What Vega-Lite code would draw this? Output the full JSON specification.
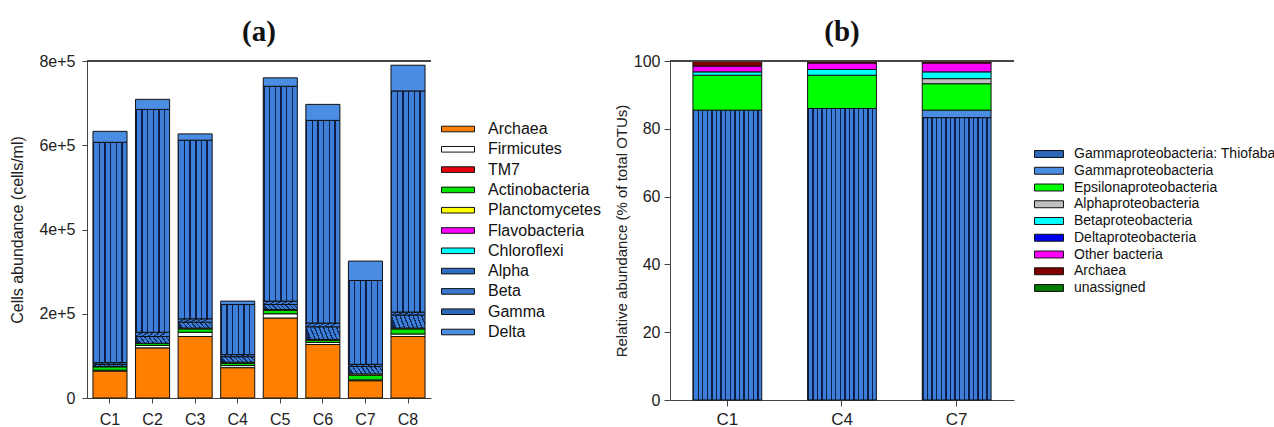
{
  "$schema": "https://vega.github.io/schema/vega-lite/v6.json",
  "background": "white",
  "padding": {"left": 9, "top": 18, "right": 0, "bottom": 0},
  "spacing": 13,
  "config": {
    "view": {"stroke": null},
    "font": "Liberation Sans",
    "axis": {"grid": false, "domainColor": "#444", "tickColor": "#444", "labelColor": "#222", "titleColor": "#222", "titleFontWeight": "normal", "labelFont": "Liberation Sans", "titleFont": "Liberation Sans"},
    "title": {"font": "Liberation Serif", "fontSize": 29, "fontWeight": "bold", "color": "#111", "anchor": "middle"},
    "legend": {"padding": 0, "labelColor": "#111", "symbolStrokeColor": "#111", "symbolStrokeWidth": 1, "symbolOpacity": 1, "labelFont": "Liberation Sans"}
  },
  "datasets": {
    "a": [
      {"site": "C1", "group": "Archaea", "k": 0, "value": 64000},
      {"site": "C1", "group": "Firmicutes", "k": 1, "value": 2000},
      {"site": "C1", "group": "Actinobacteria", "k": 3, "value": 8000},
      {"site": "C1", "group": "Planctomycetes", "k": 4, "value": 1000},
      {"site": "C1", "group": "Alpha", "k": 7, "value": 5000},
      {"site": "C1", "group": "Beta", "k": 8, "value": 4000},
      {"site": "C1", "group": "Gamma", "k": 9, "value": 523000},
      {"site": "C1", "group": "Delta", "k": 10, "value": 26000},
      {"site": "C2", "group": "Archaea", "k": 0, "value": 119000},
      {"site": "C2", "group": "Firmicutes", "k": 1, "value": 6000},
      {"site": "C2", "group": "Actinobacteria", "k": 3, "value": 5000},
      {"site": "C2", "group": "Alpha", "k": 7, "value": 16000},
      {"site": "C2", "group": "Beta", "k": 8, "value": 10000},
      {"site": "C2", "group": "Gamma", "k": 9, "value": 529000},
      {"site": "C2", "group": "Delta", "k": 10, "value": 24000},
      {"site": "C3", "group": "Archaea", "k": 0, "value": 146000},
      {"site": "C3", "group": "Firmicutes", "k": 1, "value": 10000},
      {"site": "C3", "group": "Actinobacteria", "k": 3, "value": 8000},
      {"site": "C3", "group": "Planctomycetes", "k": 4, "value": 2000},
      {"site": "C3", "group": "Alpha", "k": 7, "value": 14000},
      {"site": "C3", "group": "Beta", "k": 8, "value": 8000},
      {"site": "C3", "group": "Gamma", "k": 9, "value": 424000},
      {"site": "C3", "group": "Delta", "k": 10, "value": 15000},
      {"site": "C4", "group": "Archaea", "k": 0, "value": 72000},
      {"site": "C4", "group": "Firmicutes", "k": 1, "value": 5000},
      {"site": "C4", "group": "Actinobacteria", "k": 3, "value": 5000},
      {"site": "C4", "group": "Planctomycetes", "k": 4, "value": 3000},
      {"site": "C4", "group": "Alpha", "k": 7, "value": 13000},
      {"site": "C4", "group": "Beta", "k": 8, "value": 5000},
      {"site": "C4", "group": "Gamma", "k": 9, "value": 119000},
      {"site": "C4", "group": "Delta", "k": 10, "value": 8000},
      {"site": "C5", "group": "Archaea", "k": 0, "value": 190000},
      {"site": "C5", "group": "Firmicutes", "k": 1, "value": 10000},
      {"site": "C5", "group": "Actinobacteria", "k": 3, "value": 8000},
      {"site": "C5", "group": "Planctomycetes", "k": 4, "value": 2000},
      {"site": "C5", "group": "Alpha", "k": 7, "value": 12000},
      {"site": "C5", "group": "Beta", "k": 8, "value": 8000},
      {"site": "C5", "group": "Gamma", "k": 9, "value": 510000},
      {"site": "C5", "group": "Delta", "k": 10, "value": 20000},
      {"site": "C6", "group": "Archaea", "k": 0, "value": 127000},
      {"site": "C6", "group": "Firmicutes", "k": 1, "value": 5000},
      {"site": "C6", "group": "Actinobacteria", "k": 3, "value": 5000},
      {"site": "C6", "group": "Planctomycetes", "k": 4, "value": 2000},
      {"site": "C6", "group": "Alpha", "k": 7, "value": 30000},
      {"site": "C6", "group": "Beta", "k": 8, "value": 9000},
      {"site": "C6", "group": "Gamma", "k": 9, "value": 481000},
      {"site": "C6", "group": "Delta", "k": 10, "value": 38000},
      {"site": "C7", "group": "Archaea", "k": 0, "value": 41000},
      {"site": "C7", "group": "Firmicutes", "k": 1, "value": 2000},
      {"site": "C7", "group": "Actinobacteria", "k": 3, "value": 11000},
      {"site": "C7", "group": "Planctomycetes", "k": 4, "value": 3000},
      {"site": "C7", "group": "Alpha", "k": 7, "value": 18000},
      {"site": "C7", "group": "Beta", "k": 8, "value": 5000},
      {"site": "C7", "group": "Gamma", "k": 9, "value": 199000},
      {"site": "C7", "group": "Delta", "k": 10, "value": 46000},
      {"site": "C8", "group": "Archaea", "k": 0, "value": 146000},
      {"site": "C8", "group": "Firmicutes", "k": 1, "value": 6000},
      {"site": "C8", "group": "Actinobacteria", "k": 3, "value": 12000},
      {"site": "C8", "group": "Planctomycetes", "k": 4, "value": 2000},
      {"site": "C8", "group": "Alpha", "k": 7, "value": 31000},
      {"site": "C8", "group": "Beta", "k": 8, "value": 7000},
      {"site": "C8", "group": "Gamma", "k": 9, "value": 525000},
      {"site": "C8", "group": "Delta", "k": 10, "value": 61000}
    ],
    "b": [
      {"site": "C1", "group": "Gammaproteobacteria: Thiofaba", "k": 0, "value": 85.5},
      {"site": "C1", "group": "Epsilonaproteobacteria", "k": 2, "value": 10.3},
      {"site": "C1", "group": "Betaproteobacteria", "k": 4, "value": 1.0},
      {"site": "C1", "group": "Other bacteria", "k": 6, "value": 1.7},
      {"site": "C1", "group": "Archaea", "k": 7, "value": 1.5},
      {"site": "C4", "group": "Gammaproteobacteria: Thiofaba", "k": 0, "value": 86.0},
      {"site": "C4", "group": "Epsilonaproteobacteria", "k": 2, "value": 9.8},
      {"site": "C4", "group": "Betaproteobacteria", "k": 4, "value": 1.7},
      {"site": "C4", "group": "Other bacteria", "k": 6, "value": 1.9},
      {"site": "C4", "group": "Archaea", "k": 7, "value": 0.6},
      {"site": "C7", "group": "Gammaproteobacteria: Thiofaba", "k": 0, "value": 83.3},
      {"site": "C7", "group": "Gammaproteobacteria", "k": 1, "value": 2.2},
      {"site": "C7", "group": "Epsilonaproteobacteria", "k": 2, "value": 7.8},
      {"site": "C7", "group": "Alphaproteobacteria", "k": 3, "value": 1.5},
      {"site": "C7", "group": "Betaproteobacteria", "k": 4, "value": 2.0},
      {"site": "C7", "group": "Other bacteria", "k": 6, "value": 2.6},
      {"site": "C7", "group": "Archaea", "k": 7, "value": 0.6}
    ]
  },
  "hconcat": [
    {
      "data": {"name": "a"},
      "width": 344,
      "height": 337,
      "title": {"text": "(a)", "offset": 6},
      "layer": [
        {
          "mark": {"type": "bar", "stroke": "#111", "strokeWidth": 1},
          "encoding": {
            "x": {"field": "site", "type": "nominal", "sort": null, "scale": {"paddingInner": 0.2, "paddingOuter": 0.14},
                  "axis": {"title": null, "labelAngle": 0, "labelFontSize": 16, "tickSize": 5, "labelPadding": 8}},
            "y": {"field": "value", "type": "quantitative", "stack": "zero", "scale": {"domain": [0, 800000], "nice": false},
                  "axis": {"title": "Cells abundance (cells/ml)", "values": [0, 200000, 400000, 600000, 800000],
                           "labelExpr": "datum.value == 0 ? '0' : format(datum.value, '.0e')",
                           "labelFontSize": 16, "titleFontSize": 16, "tickSize": 5, "labelPadding": 7, "titlePadding": 13}},
            "order": {"field": "k", "type": "quantitative"},
            "color": {
              "condition": [
                {"test": "datum.group === 'Alpha'", "value": {"gradient": "linear", "x1": 0, "y1": 0.15, "x2": 1, "y2": 0, "stops": [
                    {"offset": 0, "color": "#102A5C"}, {"offset": 0.04, "color": "#102A5C"}, {"offset": 0.04, "color": "#3D7FD8"}, {"offset": 0.125, "color": "#3D7FD8"},
                    {"offset": 0.125, "color": "#102A5C"}, {"offset": 0.165, "color": "#102A5C"}, {"offset": 0.165, "color": "#3D7FD8"}, {"offset": 0.25, "color": "#3D7FD8"},
                    {"offset": 0.25, "color": "#102A5C"}, {"offset": 0.29, "color": "#102A5C"}, {"offset": 0.29, "color": "#3D7FD8"}, {"offset": 0.375, "color": "#3D7FD8"},
                    {"offset": 0.375, "color": "#102A5C"}, {"offset": 0.415, "color": "#102A5C"}, {"offset": 0.415, "color": "#3D7FD8"}, {"offset": 0.5, "color": "#3D7FD8"},
                    {"offset": 0.5, "color": "#102A5C"}, {"offset": 0.54, "color": "#102A5C"}, {"offset": 0.54, "color": "#3D7FD8"}, {"offset": 0.625, "color": "#3D7FD8"},
                    {"offset": 0.625, "color": "#102A5C"}, {"offset": 0.665, "color": "#102A5C"}, {"offset": 0.665, "color": "#3D7FD8"}, {"offset": 0.75, "color": "#3D7FD8"},
                    {"offset": 0.75, "color": "#102A5C"}, {"offset": 0.79, "color": "#102A5C"}, {"offset": 0.79, "color": "#3D7FD8"}, {"offset": 0.875, "color": "#3D7FD8"},
                    {"offset": 0.875, "color": "#102A5C"}, {"offset": 0.915, "color": "#102A5C"}, {"offset": 0.915, "color": "#3D7FD8"}, {"offset": 1, "color": "#3D7FD8"}
                  ]}},
                {"test": "datum.group === 'Beta'", "value": {"gradient": "linear", "x1": 0, "y1": 0, "x2": 1, "y2": 0.2, "stops": [
                    {"offset": 0, "color": "#102A5C"}, {"offset": 0.06, "color": "#102A5C"}, {"offset": 0.06, "color": "#3D7FD8"}, {"offset": 0.1667, "color": "#3D7FD8"},
                    {"offset": 0.1667, "color": "#102A5C"}, {"offset": 0.2267, "color": "#102A5C"}, {"offset": 0.2267, "color": "#3D7FD8"}, {"offset": 0.3333, "color": "#3D7FD8"},
                    {"offset": 0.3333, "color": "#102A5C"}, {"offset": 0.3933, "color": "#102A5C"}, {"offset": 0.3933, "color": "#3D7FD8"}, {"offset": 0.5, "color": "#3D7FD8"},
                    {"offset": 0.5, "color": "#102A5C"}, {"offset": 0.56, "color": "#102A5C"}, {"offset": 0.56, "color": "#3D7FD8"}, {"offset": 0.6667, "color": "#3D7FD8"},
                    {"offset": 0.6667, "color": "#102A5C"}, {"offset": 0.7267, "color": "#102A5C"}, {"offset": 0.7267, "color": "#3D7FD8"}, {"offset": 0.8333, "color": "#3D7FD8"},
                    {"offset": 0.8333, "color": "#102A5C"}, {"offset": 0.8933, "color": "#102A5C"}, {"offset": 0.8933, "color": "#3D7FD8"}, {"offset": 1, "color": "#3D7FD8"}
                  ]}},
                {"test": "datum.group === 'Gamma'", "value": {"gradient": "linear", "x1": 0, "y1": 0, "x2": 1, "y2": 0, "stops": [
                    {"offset": 0, "color": "#0B1F4A"}, {"offset": 0.04, "color": "#0B1F4A"}, {"offset": 0.04, "color": "#3D7FD8"}, {"offset": 0.1667, "color": "#3D7FD8"},
                    {"offset": 0.1667, "color": "#0B1F4A"}, {"offset": 0.2067, "color": "#0B1F4A"}, {"offset": 0.2067, "color": "#3D7FD8"}, {"offset": 0.3333, "color": "#3D7FD8"},
                    {"offset": 0.3333, "color": "#0B1F4A"}, {"offset": 0.3733, "color": "#0B1F4A"}, {"offset": 0.3733, "color": "#3D7FD8"}, {"offset": 0.5, "color": "#3D7FD8"},
                    {"offset": 0.5, "color": "#0B1F4A"}, {"offset": 0.54, "color": "#0B1F4A"}, {"offset": 0.54, "color": "#3D7FD8"}, {"offset": 0.6667, "color": "#3D7FD8"},
                    {"offset": 0.6667, "color": "#0B1F4A"}, {"offset": 0.7067, "color": "#0B1F4A"}, {"offset": 0.7067, "color": "#3D7FD8"}, {"offset": 0.8333, "color": "#3D7FD8"},
                    {"offset": 0.8333, "color": "#0B1F4A"}, {"offset": 0.8733, "color": "#0B1F4A"}, {"offset": 0.8733, "color": "#3D7FD8"}, {"offset": 1, "color": "#3D7FD8"}
                  ]}}
              ],
              "field": "group", "type": "nominal",
              "scale": {
                "domain": ["Archaea", "Firmicutes", "TM7", "Actinobacteria", "Planctomycetes", "Flavobacteria", "Chloroflexi", "Alpha", "Beta", "Gamma", "Delta"],
                "range": ["#FF8000", "#FFFFFF", "#E8000B", "#00E600", "#FFFF00", "#FF00FF", "#00FFFF", "#2F6DC4", "#3A78CF", "#2E66B8", "#4A8DE3"]
              },
              "legend": {"title": null, "orient": "none", "legendX": 362, "legendY": 59,
                         "symbolType": "M-2,-0.34H2V0.34H-2Z", "symbolSize": 272,
                         "symbolStrokeColor": "#111", "symbolStrokeWidth": 1,
                         "labelFontSize": 16, "labelOffset": 21, "rowPadding": 3.3, "labelLimit": 300}
            }
          }
        },
        {
          "mark": {"type": "rule", "color": "#444", "strokeWidth": 1},
          "encoding": {"y": {"datum": 800000}}
        }
      ]
    },
    {
      "data": {"name": "b"},
      "width": 344,
      "height": 339,
      "title": {"text": "(b)", "offset": 6},
      "layer": [
        {
          "mark": {"type": "bar", "stroke": "#111", "strokeWidth": 1},
          "encoding": {
            "x": {"field": "site", "type": "nominal", "sort": null, "scale": {"paddingInner": 0.4, "paddingOuter": 0.2},
                  "axis": {"title": null, "labelAngle": 0, "labelFontSize": 17, "tickSize": 6, "labelPadding": 5}},
            "y": {"field": "value", "type": "quantitative", "stack": "zero", "scale": {"domain": [0, 100], "nice": false},
                  "axis": {"title": "Relative abundance (% of total OTUs)", "values": [0, 20, 40, 60, 80, 100],
                           "labelFontSize": 16, "titleFontSize": 15, "tickSize": 6, "labelPadding": 4, "titlePadding": 4}},
            "order": {"field": "k", "type": "quantitative"},
            "color": {
              "condition": [
                {"test": "datum.group === 'Gammaproteobacteria: Thiofaba'", "value": {"gradient": "linear", "x1": 0, "y1": 0, "x2": 1, "y2": 0, "stops": [
                    {"offset": 0, "color": "#0B1F4A"}, {"offset": 0.02, "color": "#0B1F4A"}, {"offset": 0.02, "color": "#3D7FD8"}, {"offset": 0.0667, "color": "#3D7FD8"},
                    {"offset": 0.0667, "color": "#0B1F4A"}, {"offset": 0.0867, "color": "#0B1F4A"}, {"offset": 0.0867, "color": "#3D7FD8"}, {"offset": 0.1333, "color": "#3D7FD8"},
                    {"offset": 0.1333, "color": "#0B1F4A"}, {"offset": 0.1533, "color": "#0B1F4A"}, {"offset": 0.1533, "color": "#3D7FD8"}, {"offset": 0.2, "color": "#3D7FD8"},
                    {"offset": 0.2, "color": "#0B1F4A"}, {"offset": 0.22, "color": "#0B1F4A"}, {"offset": 0.22, "color": "#3D7FD8"}, {"offset": 0.2667, "color": "#3D7FD8"},
                    {"offset": 0.2667, "color": "#0B1F4A"}, {"offset": 0.2867, "color": "#0B1F4A"}, {"offset": 0.2867, "color": "#3D7FD8"}, {"offset": 0.3333, "color": "#3D7FD8"},
                    {"offset": 0.3333, "color": "#0B1F4A"}, {"offset": 0.3533, "color": "#0B1F4A"}, {"offset": 0.3533, "color": "#3D7FD8"}, {"offset": 0.4, "color": "#3D7FD8"},
                    {"offset": 0.4, "color": "#0B1F4A"}, {"offset": 0.42, "color": "#0B1F4A"}, {"offset": 0.42, "color": "#3D7FD8"}, {"offset": 0.4667, "color": "#3D7FD8"},
                    {"offset": 0.4667, "color": "#0B1F4A"}, {"offset": 0.4867, "color": "#0B1F4A"}, {"offset": 0.4867, "color": "#3D7FD8"}, {"offset": 0.5333, "color": "#3D7FD8"},
                    {"offset": 0.5333, "color": "#0B1F4A"}, {"offset": 0.5533, "color": "#0B1F4A"}, {"offset": 0.5533, "color": "#3D7FD8"}, {"offset": 0.6, "color": "#3D7FD8"},
                    {"offset": 0.6, "color": "#0B1F4A"}, {"offset": 0.62, "color": "#0B1F4A"}, {"offset": 0.62, "color": "#3D7FD8"}, {"offset": 0.6667, "color": "#3D7FD8"},
                    {"offset": 0.6667, "color": "#0B1F4A"}, {"offset": 0.6867, "color": "#0B1F4A"}, {"offset": 0.6867, "color": "#3D7FD8"}, {"offset": 0.7333, "color": "#3D7FD8"},
                    {"offset": 0.7333, "color": "#0B1F4A"}, {"offset": 0.7533, "color": "#0B1F4A"}, {"offset": 0.7533, "color": "#3D7FD8"}, {"offset": 0.8, "color": "#3D7FD8"},
                    {"offset": 0.8, "color": "#0B1F4A"}, {"offset": 0.82, "color": "#0B1F4A"}, {"offset": 0.82, "color": "#3D7FD8"}, {"offset": 0.8667, "color": "#3D7FD8"},
                    {"offset": 0.8667, "color": "#0B1F4A"}, {"offset": 0.8867, "color": "#0B1F4A"}, {"offset": 0.8867, "color": "#3D7FD8"}, {"offset": 0.9333, "color": "#3D7FD8"},
                    {"offset": 0.9333, "color": "#0B1F4A"}, {"offset": 0.9533, "color": "#0B1F4A"}, {"offset": 0.9533, "color": "#3D7FD8"}, {"offset": 1, "color": "#3D7FD8"}
                  ]}}
              ],
              "field": "group", "type": "nominal",
              "scale": {
                "domain": ["Gammaproteobacteria: Thiofaba", "Gammaproteobacteria", "Epsilonaproteobacteria", "Alphaproteobacteria", "Betaproteobacteria", "Deltaproteobacteria", "Other bacteria", "Archaea", "unassigned"],
                "range": ["#2E66B8", "#4A8DE3", "#00FF00", "#C0C0C0", "#00FFFF", "#0000F0", "#FF00FF", "#800000", "#007A00"]
              },
              "legend": {"title": null, "orient": "none", "legendX": 372, "legendY": 86,
                         "symbolType": "M-2.5,-0.6H2.5V0.6H-2.5Z", "symbolSize": 134,
                         "symbolStrokeColor": "#111", "symbolStrokeWidth": 1,
                         "labelFontSize": 14, "labelOffset": 18, "rowPadding": 2.75, "labelLimit": 300}
            }
          }
        },
        {
          "mark": {"type": "rule", "color": "#444", "strokeWidth": 1},
          "encoding": {"y": {"datum": 100}}
        }
      ]
    }
  ],
  "resolve": {"scale": {"color": "independent", "x": "independent", "y": "independent"}, "legend": {"color": "independent"}}
}
